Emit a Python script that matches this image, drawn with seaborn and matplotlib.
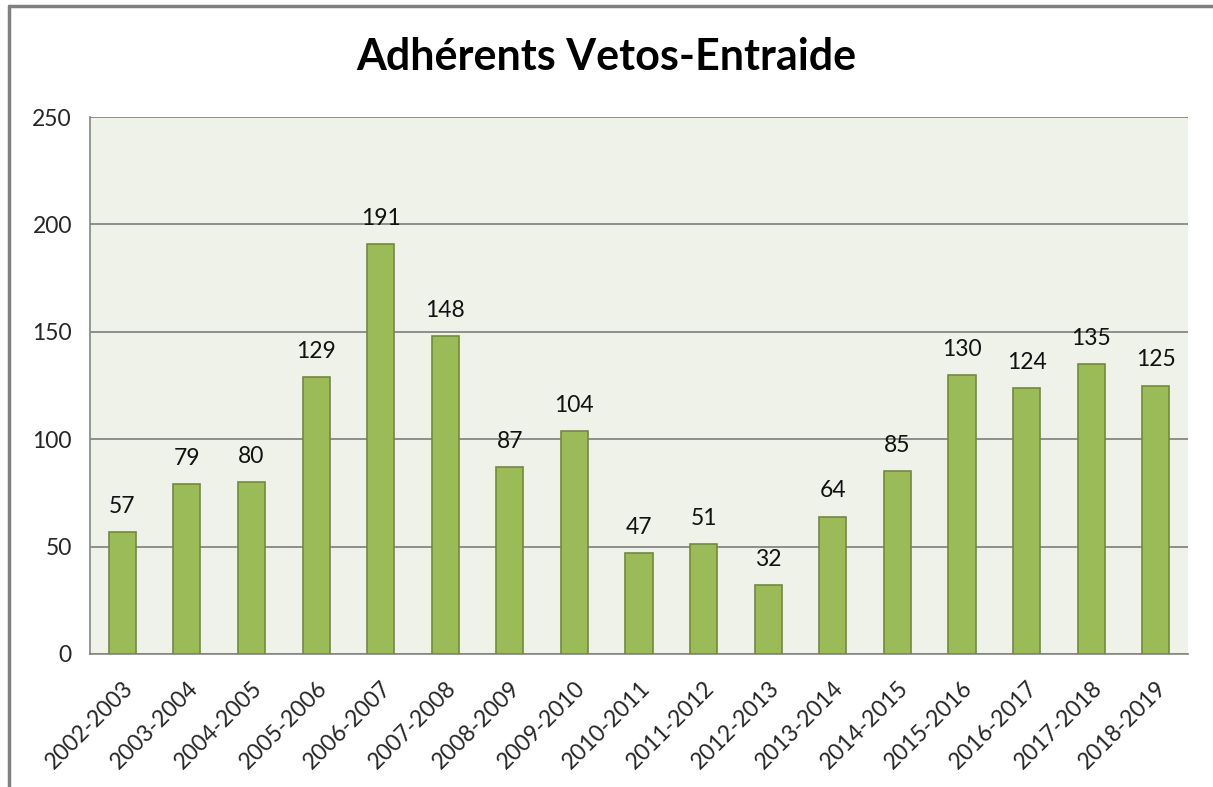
import matplotlib
matplotlib.use('Agg')
import matplotlib.pyplot as plt
import seaborn as sns
import pandas as pd
import numpy as np
from matplotlib.lines import Line2D

# --- data ---
seasons = ['2002-2003', '2003-2004', '2004-2005', '2005-2006', '2006-2007',
           '2007-2008', '2008-2009', '2009-2010', '2010-2011', '2011-2012',
           '2012-2013', '2013-2014', '2014-2015', '2015-2016', '2016-2017',
           '2017-2018', '2018-2019']
members = [57, 79, 80, 129, 191, 148, 87, 104, 47, 51, 32, 64, 85, 130, 124, 135, 125]
y_ticks = [0, 50, 100, 150, 200, 250]

df = pd.DataFrame({'season': seasons, 'members': members})

sns.set_style('white')
plt.rcParams['font.family'] = ['Lato', 'DejaVu Sans']

fig = plt.figure(figsize=(12.13, 7.87), dpi=100)
ax = fig.add_axes([0.0742, 0.169, 0.9052, 0.6823])
ax.set_facecolor('#EFF2E9')

sns.barplot(data=df, x='season', y='members', color='#9BBB59', saturation=1,
            width=0.42, edgecolor='#71893F', linewidth=1.2, ax=ax, zorder=3)

for i, v in enumerate(members):
    ax.text(i, v + 7, str(v), ha='center', va='bottom', fontsize=16.5, color='#111111', zorder=2)

ax.set_ylim(0, 250)
ax.set_xlim(-0.5, len(seasons) - 0.5)
ax.set_yticks(y_ticks)
ax.grid(axis='y', color='#868686', linewidth=1.3, zorder=1)
ax.set_axisbelow(True)

# category ticks sit on the boundaries between bars
ax.set_xticks(np.arange(len(seasons)))
ax.set_xticklabels(seasons, rotation=45, ha='right', rotation_mode='anchor', fontsize=16.5)
ax.set_xticks(np.arange(-0.5, len(seasons)), minor=True)
ax.tick_params(axis='x', which='major', length=0, pad=17)
ax.tick_params(axis='x', which='minor', length=8, color='#868686', width=1.2, direction='out')
ax.tick_params(axis='y', length=8, color='#868686', width=1.2, direction='out', labelsize=16.5, pad=5)
ax.set_xlabel('')
ax.set_ylabel('')

for side in ['top', 'right']:
    ax.spines[side].set_visible(False)
for side in ['left', 'bottom']:
    ax.spines[side].set_color('#868686')
    ax.spines[side].set_linewidth(1.2)

fig.text(0.5, 0.927, 'Adhérents Vetos-Entraide', ha='center', va='center',
         fontsize=31, fontweight='bold', color='black')

# outer chart frame (left and top edges visible)
fig.add_artist(Line2D([0.0074, 0.0074], [0, 0.9924], color='#808080', linewidth=2.5))
fig.add_artist(Line2D([0.0074, 1.0], [0.9924, 0.9924], color='#808080', linewidth=2.5))

fig.savefig('out.png', dpi=100)
